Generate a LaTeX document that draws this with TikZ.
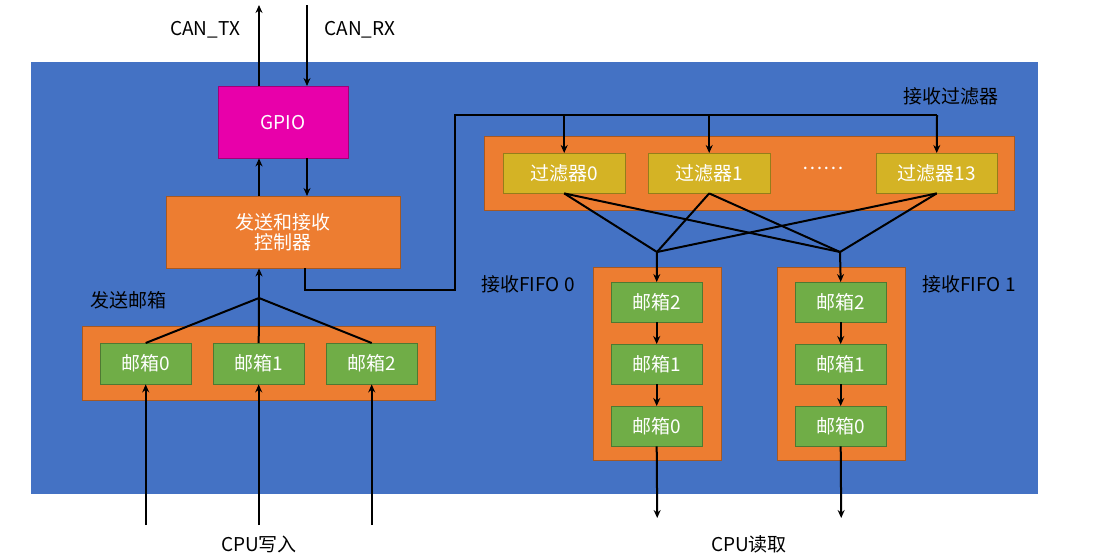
\documentclass[tikz,border=0pt]{standalone}
\usepackage{fontspec}
\setmainfont{Noto Sans CJK SC}
\usetikzlibrary{arrows.meta}
\definecolor{bg}{HTML}{4472C4}
\definecolor{org}{HTML}{ED7D31}
\definecolor{grn}{HTML}{70AD47}
\definecolor{yel}{HTML}{D4B325}
\definecolor{mag}{HTML}{E800AA}
\begin{document}
\begin{tikzpicture}[x=1pt,y=-1pt,
 box/.style={draw=#1!70!black,fill=#1,inner sep=0,anchor=north west,text=white,font=\fontsize{19}{22}\selectfont,align=center},
 lbl/.style={font=\fontsize{19}{22}\selectfont,text=black},
 ln/.style={line width=2pt,black},
 ar/.style={ln,-{Stealth[length=8pt,width=7pt]}}]
\useasboundingbox (0,0) rectangle (1107,558);
\fill[bg] (31,62) rectangle (1038,494);
\node[box=mag,minimum width=130,minimum height=72] (gpio) at (218,86) {GPIO};
\node[box=org,minimum width=234,minimum height=72] (ctl) at (166,196) {发送和接收\\[-2pt]控制器};
\node[box=org,minimum width=353,minimum height=74] (sc) at (82,326) {};
\node[lbl] (sl) at (128,300) {发送邮箱};
\foreach \i/\x in {0/100,1/213,2/326}{
 \node[box=grn,minimum width=91,minimum height=41] (s\i) at (\x,343) {邮箱\i};
 \coordinate (c\i) at ([xshift=0]s\i.south |- 0,525);
 \draw[ar] (c\i) -- (s\i.south);
}
\coordinate (sj) at (259,298);
\foreach \i in {0,1,2}{\draw[ln] (s\i.north) -- (sj);}
\draw[ar] (sj) -- (ctl.south -| sj);
\node[lbl] (cw) at (259,544) {CPU写入};
% gpio
\coordinate (tx) at (259,5); \coordinate (rx) at (307,5);
\draw[ar] (gpio.north -| tx) -- (tx);
\draw[ar] (rx) -- (gpio.north -| rx);
\draw[ar] (ctl.north -| tx) -- (gpio.south -| tx);
\draw[ar] (gpio.south -| rx) -- (ctl.north -| rx);
\node[lbl] (txl) at (205,30) {CAN\_TX};
\node[lbl] (rxl) at (360,30) {CAN\_RX};
% filters
\node[box=org,minimum width=530,minimum height=74] (fc) at (484,136) {};
\node[lbl] (fl) at (951,96) {接收过滤器};
\node[box=yel,minimum width=122,minimum height=40] (f0) at (503,153) {过滤器0};
\node[box=yel,minimum width=122,minimum height=40] (f1) at (648,153) {过滤器1};
\node[box=yel,minimum width=121,minimum height=40] (f2) at (876,153) {过滤器13};
\node[text=white,font=\fontsize{19}{22}\selectfont] (dots) at (823,168) {……};
\coordinate (p1) at (305,290); \coordinate (p2) at (455,290); \coordinate (p3) at (455,115); \coordinate (p4) at (937,115);
\draw[ln] (ctl.south -| p1) -- (p1) -- (p2) -- (p3) -- (p4);
\draw[ar] (p4) -- (f2.north);
\draw[ar] (f0.north |- p3) -- (f0.north);
\draw[ar] (f1.north |- p3) -- (f1.north);
\coordinate (j0) at (657,252); \coordinate (j1) at (840,252);
\foreach \f in {f0,f1,f2}{\draw[ln] (\f.south) -- (j0); \draw[ln] (\f.south) -- (j1);}
% fifos
\foreach \k/\x/\lx in {0/593/528,1/777/969}{
 \node[box=org,minimum width=128,minimum height=193] (q\k) at (\x,267) {};
 \node[lbl] (ql\k) at (\lx,284) {接收FIFO \k};
 \node[box=grn,minimum width=91,minimum height=40] (m\k2) at (\x+18,282) {邮箱2};
 \node[box=grn,minimum width=91,minimum height=40] (m\k1) at (\x+18,344) {邮箱1};
 \node[box=grn,minimum width=91,minimum height=40] (m\k0) at (\x+18,406) {邮箱0};
 \draw[ar] (j\k) -- (m\k2.north);
 \draw[ar] (m\k2.south) -- (m\k1.north);
 \draw[ar] (m\k1.south) -- (m\k0.north);
 \coordinate (o\k) at (q\k.south |- 0,518);
 \draw[ar] (m\k0.south) -- (o\k);
}
\node[lbl] (cr) at (749,544) {CPU读取};
\end{tikzpicture}
\end{document}
